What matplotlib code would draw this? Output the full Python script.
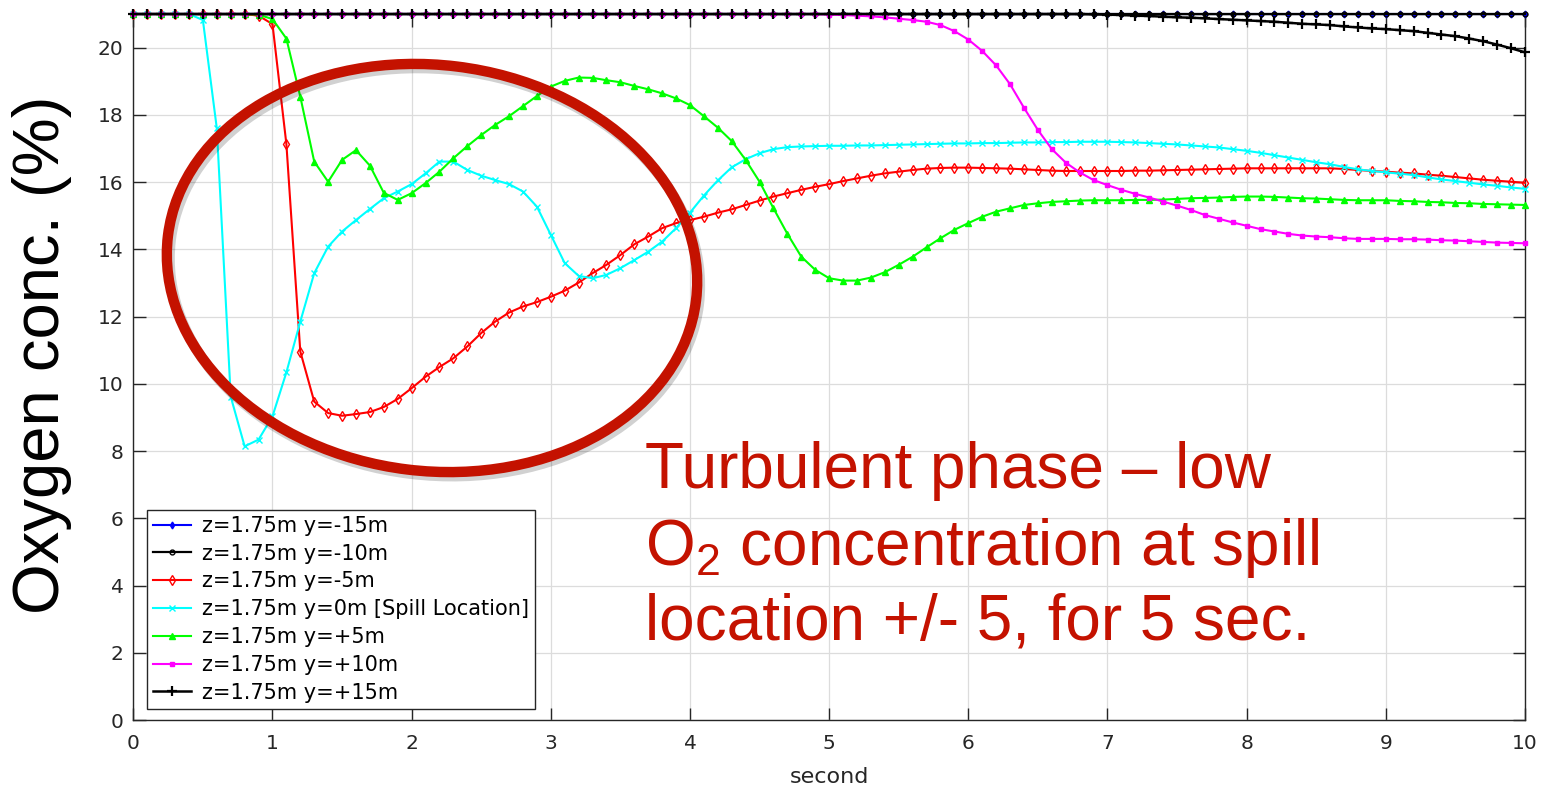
import numpy as np
import matplotlib
matplotlib.use("Agg")
import matplotlib.pyplot as plt
from matplotlib.patches import Ellipse
import matplotlib.patheffects as pe

plt.rcParams['mathtext.default'] = 'regular'

# time axis (s), sampled every 0.1 s
time_s = np.round(np.arange(0, 101) * 0.1, 1)

o2_y_m15 = [21.0, 21.0, 21.0, 21.0, 21.0, 21.0, 21.0, 21.0, 21.0, 21.0,
            21.0, 21.0, 21.0, 21.0, 21.0, 21.0, 21.0, 21.0, 21.0, 21.0,
            21.0, 21.0, 21.0, 21.0, 21.0, 21.0, 21.0, 21.0, 21.0, 21.0,
            21.0, 21.0, 21.0, 21.0, 21.0, 21.0, 21.0, 21.0, 21.0, 21.0,
            21.0, 21.0, 21.0, 21.0, 21.0, 21.0, 21.0, 21.0, 21.0, 21.0,
            21.0, 21.0, 21.0, 21.0, 21.0, 21.0, 21.0, 21.0, 21.0, 21.0,
            21.0, 21.0, 21.0, 21.0, 21.0, 21.0, 21.0, 21.0, 21.0, 21.0,
            21.0, 21.0, 21.0, 21.0, 21.0, 21.0, 21.0, 21.0, 21.0, 21.0,
            21.0, 21.0, 21.0, 21.0, 21.0, 21.0, 21.0, 21.0, 21.0, 21.0,
            21.0, 21.0, 21.0, 21.0, 21.0, 21.0, 21.0, 21.0, 21.0, 21.0,
            21.0]

o2_y_m10 = [21.0, 21.0, 21.0, 21.0, 21.0, 21.0, 21.0, 21.0, 21.0, 21.0,
            21.0, 21.0, 21.0, 21.0, 21.0, 21.0, 21.0, 21.0, 21.0, 21.0,
            21.0, 21.0, 21.0, 21.0, 21.0, 21.0, 21.0, 21.0, 21.0, 21.0,
            21.0, 21.0, 21.0, 21.0, 21.0, 21.0, 21.0, 21.0, 21.0, 21.0,
            21.0, 21.0, 21.0, 21.0, 21.0, 21.0, 21.0, 21.0, 21.0, 21.0,
            21.0, 21.0, 21.0, 21.0, 21.0, 21.0, 21.0, 21.0, 21.0, 21.0,
            21.0, 21.0, 21.0, 21.0, 21.0, 21.0, 21.0, 21.0, 21.0, 21.0,
            21.0, 21.0, 21.0, 21.0, 21.0, 21.0, 21.0, 21.0, 21.0, 21.0,
            21.0, 21.0, 21.0, 21.0, 21.0, 21.0, 21.0, 21.0, 21.0, 21.0,
            21.0, 21.0, 21.0, 21.0, 21.0, 21.0, 21.0, 21.0, 21.0, 21.0,
            21.0]

o2_y_m5 = [21.0, 21.0, 21.0, 21.0, 21.0, 21.0, 21.0, 21.0, 21.0, 20.95,
           20.70, 17.13, 10.96, 9.47, 9.13, 9.05, 9.10, 9.16, 9.31, 9.55,
           9.87, 10.21, 10.50, 10.76, 11.11, 11.51, 11.85, 12.12, 12.30, 12.43,
           12.59, 12.77, 13.01, 13.29, 13.54, 13.83, 14.15, 14.38, 14.63, 14.78,
           14.87, 14.97, 15.09, 15.19, 15.32, 15.45, 15.57, 15.67, 15.77, 15.86,
           15.94, 16.03, 16.11, 16.19, 16.26, 16.31, 16.36, 16.40, 16.42, 16.43,
           16.43, 16.42, 16.41, 16.40, 16.38, 16.36, 16.34, 16.33, 16.33, 16.33,
           16.33, 16.33, 16.34, 16.34, 16.35, 16.36, 16.37, 16.38, 16.39, 16.40,
           16.41, 16.41, 16.41, 16.41, 16.41, 16.41, 16.41, 16.39, 16.36, 16.33,
           16.31, 16.28, 16.26, 16.22, 16.19, 16.15, 16.11, 16.07, 16.04, 16.01,
           15.98]

o2_y_0 = [21.0, 21.0, 21.0, 21.0, 21.0, 20.82, 17.60, 9.62, 8.14, 8.34,
          9.03, 10.34, 11.85, 13.29, 14.08, 14.53, 14.87, 15.20, 15.52, 15.72,
          15.94, 16.26, 16.61, 16.61, 16.36, 16.19, 16.06, 15.94, 15.72, 15.27,
          14.43, 13.59, 13.21, 13.14, 13.24, 13.44, 13.68, 13.93, 14.23, 14.63,
          15.09, 15.60, 16.05, 16.44, 16.68, 16.86, 16.98, 17.04, 17.06, 17.07,
          17.08, 17.08, 17.09, 17.09, 17.10, 17.11, 17.12, 17.13, 17.14, 17.15,
          17.15, 17.16, 17.16, 17.17, 17.18, 17.18, 17.19, 17.19, 17.20, 17.20,
          17.20, 17.19, 17.18, 17.16, 17.14, 17.12, 17.09, 17.06, 17.03, 16.98,
          16.93, 16.87, 16.80, 16.73, 16.66, 16.59, 16.53, 16.45, 16.38, 16.33,
          16.29, 16.25, 16.21, 16.14, 16.08, 16.03, 15.98, 15.93, 15.89, 15.84,
          15.80]

o2_y_p5 = [21.0, 21.0, 21.0, 21.0, 21.0, 21.0, 21.0, 21.0, 21.0, 20.98,
           20.85, 20.27, 18.54, 16.61, 16.01, 16.66, 16.95, 16.49, 15.68, 15.47,
           15.67, 15.97, 16.31, 16.71, 17.07, 17.40, 17.70, 17.96, 18.26, 18.56,
           18.84, 19.01, 19.11, 19.10, 19.03, 18.97, 18.86, 18.76, 18.64, 18.49,
           18.29, 17.96, 17.62, 17.22, 16.66, 16.01, 15.22, 14.46, 13.78, 13.39,
           13.14, 13.07, 13.07, 13.16, 13.32, 13.54, 13.78, 14.06, 14.33, 14.58,
           14.78, 14.97, 15.12, 15.22, 15.32, 15.37, 15.41, 15.43, 15.45, 15.46,
           15.46, 15.46, 15.47, 15.47, 15.48, 15.50, 15.52, 15.53, 15.54, 15.56,
           15.57, 15.57, 15.56, 15.54, 15.52, 15.51, 15.49, 15.47, 15.46, 15.46,
           15.46, 15.44, 15.43, 15.41, 15.40, 15.38, 15.37, 15.35, 15.34, 15.33,
           15.32]

o2_y_p10 = [21.0, 21.0, 21.0, 21.0, 21.0, 21.0, 21.0, 21.0, 21.0, 21.0,
            21.0, 21.0, 21.0, 21.0, 21.0, 21.0, 21.0, 21.0, 21.0, 21.0,
            21.0, 21.0, 21.0, 21.0, 21.0, 21.0, 21.0, 21.0, 21.0, 21.0,
            21.0, 21.0, 21.0, 21.0, 21.0, 21.0, 21.0, 21.0, 21.0, 21.0,
            21.0, 21.0, 21.0, 21.0, 21.0, 21.0, 21.0, 21.0, 21.0, 21.0,
            20.98, 20.97, 20.95, 20.93, 20.90, 20.86, 20.82, 20.77, 20.67, 20.49,
            20.24, 19.90, 19.47, 18.91, 18.21, 17.55, 16.98, 16.58, 16.29, 16.06,
            15.91, 15.77, 15.65, 15.54, 15.42, 15.30, 15.17, 15.02, 14.91, 14.80,
            14.70, 14.60, 14.53, 14.46, 14.41, 14.38, 14.36, 14.33, 14.31, 14.31,
            14.31, 14.30, 14.30, 14.29, 14.27, 14.26, 14.24, 14.22, 14.20, 14.19,
            14.18]

o2_y_p15 = [21.0, 21.0, 21.0, 21.0, 21.0, 21.0, 21.0, 21.0, 21.0, 21.0,
            21.0, 21.0, 21.0, 21.0, 21.0, 21.0, 21.0, 21.0, 21.0, 21.0,
            21.0, 21.0, 21.0, 21.0, 21.0, 21.0, 21.0, 21.0, 21.0, 21.0,
            21.0, 21.0, 21.0, 21.0, 21.0, 21.0, 21.0, 21.0, 21.0, 21.0,
            21.0, 21.0, 21.0, 21.0, 21.0, 21.0, 21.0, 21.0, 21.0, 21.0,
            21.0, 21.0, 21.0, 21.0, 21.0, 21.0, 21.0, 21.0, 21.0, 21.0,
            21.0, 21.0, 21.0, 21.0, 21.0, 21.0, 21.0, 21.0, 21.0, 20.99,
            20.98, 20.97, 20.95, 20.94, 20.92, 20.90, 20.89, 20.87, 20.85, 20.83,
            20.81, 20.79, 20.77, 20.74, 20.71, 20.69, 20.67, 20.63, 20.60, 20.57,
            20.55, 20.52, 20.49, 20.44, 20.39, 20.34, 20.27, 20.19, 20.09, 19.98,
            19.86]

series_labels = ["z=1.75m y=-15m", "z=1.75m y=-10m", "z=1.75m y=-5m",
                 "z=1.75m y=0m [Spill Location]", "z=1.75m y=+5m",
                 "z=1.75m y=+10m", "z=1.75m y=+15m"]
series_values = [o2_y_m15, o2_y_m10, o2_y_m5, o2_y_0, o2_y_p5, o2_y_p10, o2_y_p15]
series_colors = ["#0000ff", "#000000", "#ff0000", "#00ffff", "#00ff00", "#ff00ff", "#000000"]
series_markers = ["d", "o", "d", "x", "^", "s", "+"]
series_msize = [3.5, 3.5, 5, 4, 4.5, 3.2, 7]
series_mew = [1.0, 1.0, 1.0, 1.0, 1.0, 1.0, 1.6]
series_lw = [1.5, 1.6, 1.5, 1.5, 1.5, 1.5, 1.8]
series_mfc = ["#0000ff", "none", "none", "#00ffff", "#00ff00", "#ff00ff", "#000000"]

x_ticks = [0, 1, 2, 3, 4, 5, 6, 7, 8, 9, 10]
y_ticks = [0, 2, 4, 6, 8, 10, 12, 14, 16, 18, 20]

W, H = 1554, 787
fig = plt.figure(figsize=(W / 100, H / 100), dpi=100)
ax = fig.add_axes([133.3 / W, 1 - 720 / H, (1525 - 133.3) / W, (720 - 14) / H])

for vals, lab, col, mk, ms, mfc, mew, lw in zip(series_values, series_labels, series_colors,
                                                series_markers, series_msize, series_mfc,
                                                series_mew, series_lw):
    ax.plot(time_s, vals, color=col, lw=lw, marker=mk, ms=ms, mfc=mfc,
            mec=col, mew=mew, label=lab, clip_on=False, zorder=3)

ax.set_xlim(0, 10)
ax.set_ylim(0, 21)
ax.set_xticks(x_ticks)
ax.set_yticks(y_ticks)
ax.grid(True, color="#dcdcdc", lw=0.9)
ax.set_axisbelow(True)
for s in ax.spines.values():
    s.set_color("#262626")
    s.set_linewidth(1.0)
ax.tick_params(direction="in", length=9, width=1.0, color="#262626",
               labelsize=14.5, labelcolor="#262626", top=True, right=True)
ax.tick_params(axis="x", pad=10)
ax.tick_params(axis="y", pad=7)
ax.set_xlabel("second", fontsize=16, color="#262626", labelpad=10)

leg = ax.legend(loc="lower left", bbox_to_anchor=(0.0098, 0.0156), borderaxespad=0,
                fontsize=15, frameon=True, fancybox=False, framealpha=1,
                edgecolor="#262626", handlelength=1.8, handletextpad=0.55,
                labelspacing=0.375, borderpad=0.3)
leg.get_frame().set_linewidth(1.0)
leg.set_zorder(5)

# big y-axis label
fig.text(42 / W, 1 - 355 / H, "Oxygen conc. (%)", rotation=90, ha="center", va="center",
         fontsize=47, family="Liberation Sans", color="black")

# annotation ellipse with shadow
ann_red = "#c41200"
ell = Ellipse((4.32, (H - 268) / 100), 5.32, 4.06, angle=-7,
              transform=fig.dpi_scale_trans, fill=False, edgecolor=ann_red,
              lw=7.5, zorder=10, clip_on=False)
ell.set_path_effects([pe.SimpleLineShadow(offset=(2, -3), shadow_color="black", alpha=0.18),
                      pe.Normal()])
fig.add_artist(ell)

ann_lines = ["Turbulent phase \u2013 low", r"O$_{2}$ concentration at spill",
             "location +/- 5, for 5 sec."]
ann_baselines = [488, 565, 640]
for txt, yb in zip(ann_lines, ann_baselines):
    fig.text(645 / W, 1 - yb / H, txt, ha="left", va="baseline", fontsize=46,
             family="Liberation Sans", color=ann_red, zorder=11)

fig.savefig("out.png", dpi=100)
